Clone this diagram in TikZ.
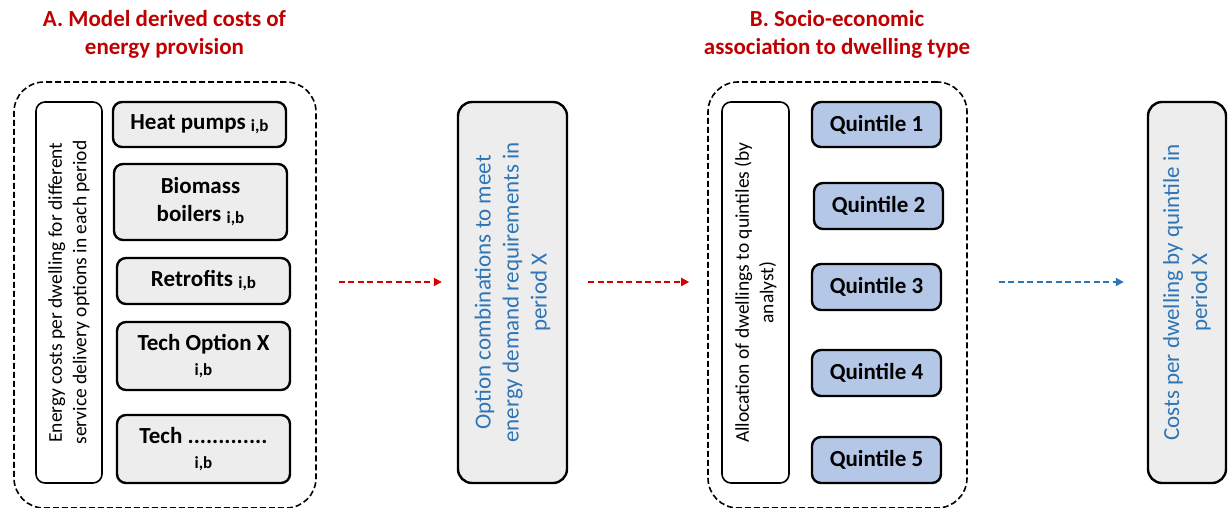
\documentclass[tikz,border=0pt]{standalone}
\usepackage{fontspec}
\setmainfont{Carlito}
\usetikzlibrary{arrows.meta}
\definecolor{tred}{HTML}{C00000}
\definecolor{ared}{HTML}{D40000}
\definecolor{tblue}{HTML}{2E75B6}
\definecolor{qblue}{HTML}{B4C7E7}
\definecolor{boxgray}{HTML}{EDEDED}
\newcommand{\ib}{{\fontsize{17}{19}\selectfont\raisebox{-2pt}{i,b}}}
\begin{document}
\begin{tikzpicture}[x=1pt,y=-1pt,
  title/.style={text=tred, font=\fontsize{23}{28}\selectfont\bfseries, align=center, inner sep=0pt},
  grp/.style={draw=black, dash pattern=on 6pt off 3pt, line width=1.6pt, rounded corners=30pt, inner sep=0pt},
  whitebox/.style={draw=black, line width=1.6pt, fill=white, rounded corners=9pt, inner sep=0pt},
  sidetext/.style={rotate=90, align=center, inner sep=0pt, font=\fontsize{19.5}{24.5}\selectfont},
  techbox/.style={draw=black, line width=2.4pt, fill=boxgray, rounded corners=9pt, inner sep=0pt, align=center, font=\fontsize{23}{28}\selectfont\bfseries},
  qbox/.style={draw=black, line width=2.4pt, fill=qblue, rounded corners=9pt, inner sep=0pt, align=center, font=\fontsize{23}{28}\selectfont\bfseries},
  outbox/.style={draw=black, line width=2.4pt, fill=boxgray, rounded corners=14pt, inner sep=0pt},
  outtext/.style={rotate=90, align=center, inner sep=0pt, text=tblue, font=\fontsize{23}{28}\selectfont},
  redarrow/.style={draw=ared, line width=1.8pt, dash pattern=on 6pt off 3.5pt, -{Triangle[length=8pt,width=8pt]}},
  bluearrow/.style={draw=tblue, line width=1.8pt, dash pattern=on 6pt off 3.5pt, -{Triangle[length=8pt,width=8pt]}}
]
\useasboundingbox (0,0) rectangle (1230,508);

% titles
\node[title] (tA) at (164.5,34) {A. Model derived costs of\\energy provision};
\node[title] (tB) at (837,34) {B. Socio-economic\\association to dwelling type};

% group A
\node[grp, minimum width=302pt, minimum height=426pt] (gA) at (165,295) {};
\node[whitebox, minimum width=66pt, minimum height=381pt] (wA) at (69,292.5) {};
\node[sidetext] (wAt) at (wA.center)
  {Energy costs per dwelling for different\\service delivery options in each period};
\node[techbox, minimum width=173pt, minimum height=45pt] (hp) at (199.5,124.5) {Heat pumps \ib};
\node[techbox, minimum width=173pt, minimum height=76pt] (bb) at (200.5,202) {Biomass\\boilers \ib};
\node[techbox, minimum width=173pt, minimum height=46pt] (rf) at (203.5,281) {Retrofits \ib};
\node[techbox, minimum width=173pt, minimum height=68pt] (tx) at (203.5,356) {Tech Option X\\[-5pt]\ib};
\node[techbox, minimum width=173pt, minimum height=68pt] (td) at (203.5,449) {Tech .............\\[-5pt]\ib};

% middle
\node[outbox, minimum width=109pt, minimum height=381pt] (mid) at (512.5,292.5) {};
\node[outtext] (midt) at (mid.center)
  {Option combinations to meet\\energy demand requirements in\\period X};

% group B
\node[grp, minimum width=259pt, minimum height=426pt] (gB) at (837.5,295) {};
\node[whitebox, minimum width=67pt, minimum height=381pt] (wB) at (755.5,292.5) {};
\node[sidetext] (wBt) at (wB.center)
  {Allocation of dwellings to quintiles (by\\analyst)};
\node[qbox, minimum width=129pt, minimum height=45pt] (q1) at (876.5,124.5) {Quintile 1};
\node[qbox, minimum width=129pt, minimum height=46pt] (q2) at (878.5,206) {Quintile 2};
\node[qbox, minimum width=129pt, minimum height=46pt] (q3) at (876.5,287) {Quintile 3};
\node[qbox, minimum width=129pt, minimum height=46pt] (q4) at (876.5,373) {Quintile 4};
\node[qbox, minimum width=129pt, minimum height=46pt] (q5) at (876.5,460) {Quintile 5};

% final
\node[outbox, minimum width=78pt, minimum height=381pt] (fin) at (1187,292.5) {};
\node[outtext] (fint) at (fin.center)
  {Costs per dwelling by quintile in\\period X};

% arrows
\coordinate (ay) at (0,282);
\draw[redarrow, shorten <=22pt, shorten >=15pt] (gA.east |- ay) -- (mid.west |- ay);
\draw[redarrow, shorten <=20pt, shorten >=18pt] (mid.east |- ay) -- (gB.west |- ay);
\draw[bluearrow, shorten <=31pt, shorten >=23pt] (gB.east |- ay) -- (fin.west |- ay);
\end{tikzpicture}
\end{document}
